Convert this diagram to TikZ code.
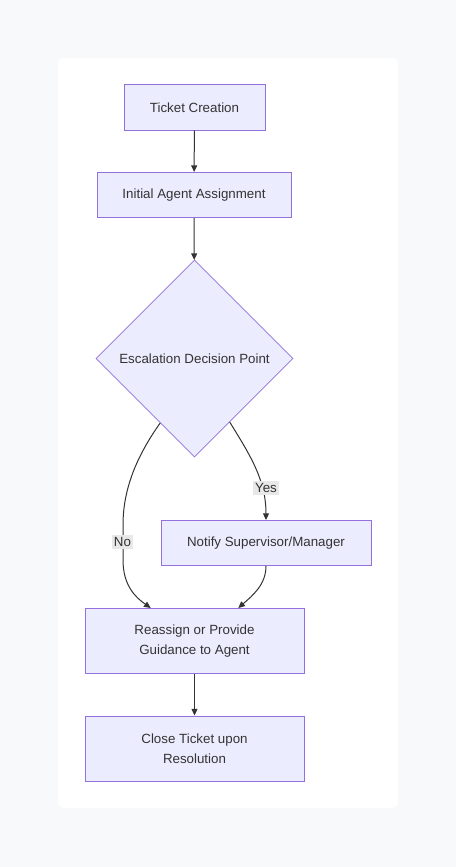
\documentclass[tikz,border=0pt]{standalone}
\usepackage{fontspec}
\setmainfont{Liberation Sans}
\usetikzlibrary{arrows.meta,shapes.geometric}
\definecolor{pagebg}{RGB}{248,249,250}
\definecolor{boxfill}{RGB}{236,236,255}
\definecolor{boxline}{RGB}{147,112,219}
\definecolor{ink}{RGB}{51,51,51}
\definecolor{lblbg}{RGB}{232,232,232}

\begin{document}
\begin{tikzpicture}[x = .75pt, y = -.75pt,
  every node/.style = {font=\fontsize{10}{15}\selectfont, text=ink, align=center},
  box/.style = {rectangle, draw=boxline, fill=boxfill, line width=.75pt, inner sep=0pt},
  decide/.style = {diamond, draw=boxline, fill=boxfill, line width=.5pt, inner sep=0pt,
    minimum width=147.75pt, minimum height=147.75pt},
  lbl/.style = {fill=lblbg, inner sep=1.5pt},
  flow/.style = {-{Triangle[length=5pt,width=4.5pt]}, draw=ink, line width=.75pt}]

% page and card
\fill[pagebg] (0, 0) rectangle (456, 867);
\fill[white, rounded corners=4.5pt] (58, 58) rectangle (398, 808);

\node[box, minimum width=105.75pt, minimum height=33.75pt] (ticket) at (194.5, 107.5) {Ticket Creation};
\node[box, minimum width=145.5pt, minimum height=33.75pt] (assign) at (194, 195) {Initial Agent Assignment};
\node[decide] (dec) at (194.5, 358.5) {Escalation Decision Point};
\node[box, minimum width=157.5pt, minimum height=33.75pt] (notify) at (266, 543) {Notify Supervisor/Manager};
\node[box, minimum width=164.25pt, minimum height=48.75pt] (reas) at (194.5, 641) {Reassign or Provide\\Guidance to Agent};
\node[box, minimum width=164.25pt, minimum height=48.75pt] (close) at (194.5, 748.5) {Close Ticket upon\\Resolution};

\draw[flow] (ticket) -- (assign);
\draw[flow] (assign) -- (dec);
\draw[flow] (dec.299) .. controls (250, 455) and (266, 480) .. (notify.north);
\draw[flow] (dec.242) .. controls (136, 457) and (123, 490) .. (123, 525)
  -- (123, 560) .. controls (123, 585) and (135, 597) .. (reas.143);
\draw[flow] (notify.south) .. controls (266, 585) and (252, 596) .. (reas.37);
\draw[flow] (reas) -- (close);

\node[lbl] (yes) at (266, 488) {Yes};
\node[lbl] (no) at (122.5, 542) {No};

\end{tikzpicture}
\end{document}
